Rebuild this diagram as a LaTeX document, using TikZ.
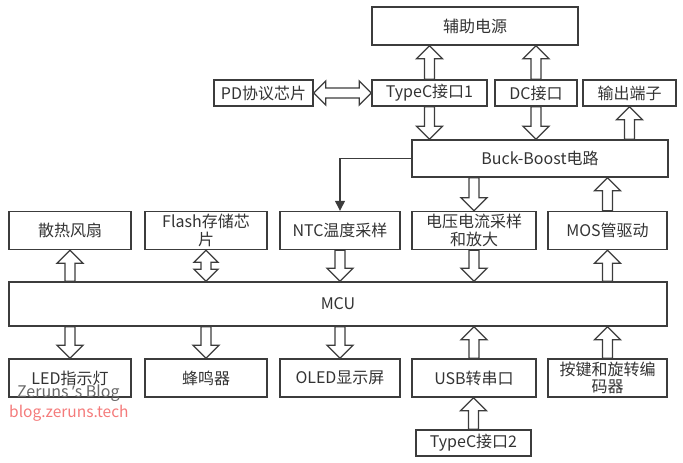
\documentclass[tikz,border=0pt]{standalone}
\usepackage{fontspec}
\setmainfont{Noto Sans CJK SC}
\newfontfamily\latinfont{Noto Sans}
\usetikzlibrary{calc,arrows.meta}
\definecolor{ln}{HTML}{3C3C3C}
\definecolor{tx}{HTML}{333333}
\definecolor{wmgray}{HTML}{666666}
\definecolor{wmred}{HTML}{F47A7A}
\tikzset{
  box/.style={draw=ln, line width=1.4pt, inner sep=0pt, align=center, text=tx,
    font=\fontsize{16}{17.5}\selectfont},
  fat/.style={draw=ln, line width=1.3pt, fill=white, line join=miter},
  thinarrow/.style={draw=ln, line width=1.3pt, -{Triangle[length=10pt,width=10pt]}},
}
% single-headed hollow block arrow from #1 to #2
\newcommand{\fatarr}[2]{%
  \coordinate (fa-s) at (#1);
  \coordinate (fa-t) at (#2);
  \coordinate (fa-h) at ($(fa-t)!13pt!(fa-s)$);
  \draw[fat] ($(fa-s)!5pt!90:(fa-t)$) -- ($(fa-h)!5pt!90:(fa-t)$) -- ($(fa-h)!13pt!90:(fa-t)$)
    -- (fa-t) -- ($(fa-h)!13pt!-90:(fa-t)$) -- ($(fa-h)!5pt!-90:(fa-t)$)
    -- ($(fa-s)!5pt!-90:(fa-t)$) -- cycle;
}
% double-headed hollow block arrow between #1 and #2
\newcommand{\fatdbl}[3]{%
  \coordinate (fa-s) at (#1);
  \coordinate (fa-t) at (#2);
  \coordinate (fa-h) at ($(fa-t)!#3!(fa-s)$);
  \coordinate (fa-g) at ($(fa-s)!#3!(fa-t)$);
  \draw[fat] ($(fa-g)!5pt!90:(fa-t)$) -- ($(fa-h)!5pt!90:(fa-t)$) -- ($(fa-h)!12pt!90:(fa-t)$)
    -- (fa-t) -- ($(fa-h)!12pt!-90:(fa-t)$) -- ($(fa-h)!5pt!-90:(fa-t)$)
    -- ($(fa-g)!5pt!-90:(fa-t)$) -- ($(fa-g)!12pt!-90:(fa-t)$) -- (fa-s)
    -- ($(fa-g)!12pt!90:(fa-t)$) -- cycle;
}
\begin{document}
\begin{tikzpicture}[x=1pt,y=-1pt]
\useasboundingbox (0,0) rectangle (683,463);
% top part
\node[box, minimum width=206pt, minimum height=38pt] (aux) at (475,26) {辅助电源};
\node[box, minimum width=99pt, minimum height=26pt] (pd) at (263.5,93) {PD协议芯片};
\node[box, minimum width=115pt, minimum height=26pt] (tc1) at (429.5,93) {TypeC接口1};
\node[box, minimum width=82pt, minimum height=26pt] (dc) at (536,93) {DC接口};
\node[box, minimum width=93pt, minimum height=26pt] (out) at (629.5,93) {输出端子};
\node[box, minimum width=256pt, minimum height=37pt] (bb) at (540,158.5) {Buck-Boost电路};
% row 2
\node[box, minimum width=122pt, minimum height=38pt] (fan) at (70,230.5) {散热风扇};
\node[box, minimum width=122pt, minimum height=38pt] (flash) at (206,230.5) {Flash存储芯\\片};
\node[box, minimum width=120pt, minimum height=38pt] (ntc) at (340,230.5) {NTC温度采样};
\node[box, minimum width=124pt, minimum height=38pt] (vi) at (474,230.5) {电压电流采样\\和放大};
\node[box, minimum width=119pt, minimum height=38pt] (mos) at (607.5,230.5) {MOS管驱动};
% MCU
\node[box, minimum width=658pt, minimum height=44pt] (mcu) at (338,304) {MCU};
% row 3
\node[box, minimum width=122pt, minimum height=38pt] (led) at (70,378) {LED指示灯};
\node[box, minimum width=122pt, minimum height=38pt] (buz) at (206,378) {蜂鸣器};
\node[box, minimum width=120pt, minimum height=38pt] (oled) at (340,378) {OLED显示屏};
\node[box, minimum width=124pt, minimum height=38pt] (usb) at (474,378) {USB转串口};
\node[box, minimum width=119pt, minimum height=38pt] (key) at (607.5,378) {按键和旋转编\\码器};
\node[box, minimum width=115pt, minimum height=26pt] (tc2) at (473.5,443) {TypeC接口2};
% arrows, top
\fatarr{tc1.north}{tc1.north |- aux.south}
\fatarr{dc.north}{dc.north |- aux.south}
\fatdbl{pd.east}{tc1.west}{12pt}
\fatarr{tc1.south}{tc1.south |- bb.north}
\fatarr{dc.south}{dc.south |- bb.north}
\fatarr{out.south |- bb.north}{out.south}
\draw[thinarrow] (bb.west) -| (ntc.north);
\fatarr{vi.north |- bb.south}{vi.north}
\fatarr{mos.north}{mos.north |- bb.south}
% arrows, row 2
\fatarr{fan.south |- mcu.north}{fan.south}
\fatdbl{flash.south}{flash.south |- mcu.north}{12pt}
\fatarr{ntc.south}{ntc.south |- mcu.north}
\fatarr{vi.south}{vi.south |- mcu.north}
\fatarr{mos.south |- mcu.north}{mos.south}
% arrows, row 3
\fatarr{led.north |- mcu.south}{led.north}
\fatarr{buz.north |- mcu.south}{buz.north}
\fatarr{oled.north |- mcu.south}{oled.north}
\fatarr{usb.north}{usb.north |- mcu.south}
\fatarr{key.north}{key.north |- mcu.south}
\fatarr{tc2.north}{tc2.north |- usb.south}
% watermark
\node[anchor=west, inner sep=0pt, text=wmgray, font=\fontsize{16}{18}\selectfont] (wm1) at (17,393) {Zeruns {\latinfont ’}s Blog};
\node[anchor=west, inner sep=0pt, text=wmred, font=\fontsize{15.5}{18}\selectfont] (wm2) at (9,413) {blog.zeruns.tech};
\end{tikzpicture}
\end{document}
